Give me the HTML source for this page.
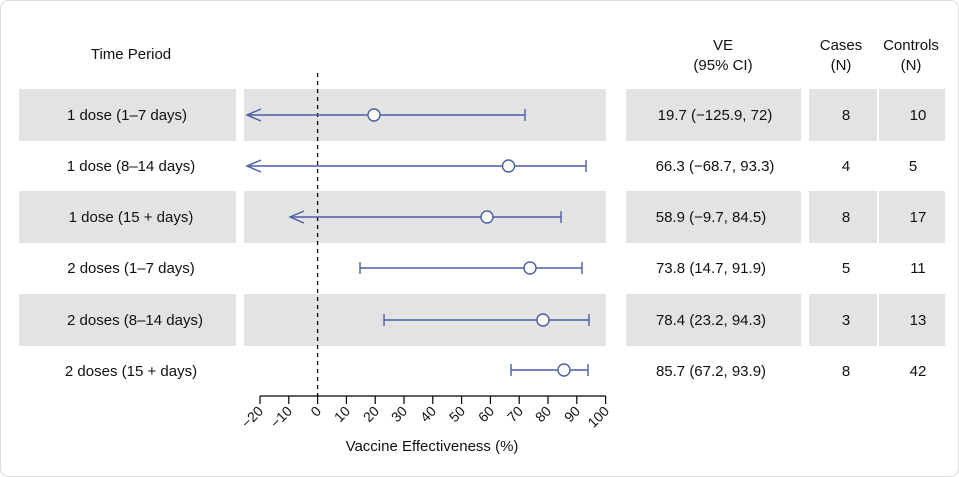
<!DOCTYPE html>
<html><head><style>
body{margin:0;background:#fff;}
svg{display:block;font-family:"Liberation Sans",Arial,sans-serif;}
</style></head><body>
<svg width="959" height="477" viewBox="0 0 959 477" xmlns="http://www.w3.org/2000/svg">
<rect x="0.5" y="0.5" width="958" height="476" rx="8" fill="#fff" stroke="#ddd"/>
<g fill="#e3e3e3">
<rect x="19" y="89" width="217" height="52"/><rect x="244" y="89" width="362" height="52"/><rect x="626" y="89" width="175" height="52"/><rect x="809" y="89" width="68" height="52"/><rect x="879" y="89" width="66" height="52"/>
<rect x="19" y="191" width="217" height="52"/><rect x="244" y="191" width="362" height="52"/><rect x="626" y="191" width="175" height="52"/><rect x="809" y="191" width="68" height="52"/><rect x="879" y="191" width="66" height="52"/>
<rect x="19" y="294" width="217" height="52"/><rect x="244" y="294" width="362" height="52"/><rect x="626" y="294" width="175" height="52"/><rect x="809" y="294" width="68" height="52"/><rect x="879" y="294" width="66" height="52"/>
</g>
<g font-size="15" fill="#111" text-anchor="middle">
<text x="131" y="59">Time Period</text>
<text x="723" y="50">VE</text><text x="723" y="70">(95% CI)</text>
<text x="841" y="50">Cases</text><text x="841" y="70">(N)</text>
<text x="911" y="50">Controls</text><text x="911" y="70">(N)</text>
<text x="127" y="120">1 dose (1–7 days)</text>
<text x="131" y="171">1 dose (8–14 days)</text>
<text x="131" y="222">1 dose (15 + days)</text>
<text x="131" y="273">2 doses (1–7 days)</text>
<text x="135" y="325">2 doses (8–14 days)</text>
<text x="131" y="376">2 doses (15 + days)</text>
<text x="715" y="120">19.7 (−125.9, 72)</text>
<text x="715" y="171">66.3 (−68.7, 93.3)</text>
<text x="711" y="222">58.9 (−9.7, 84.5)</text>
<text x="711" y="273">73.8 (14.7, 91.9)</text>
<text x="711" y="325">78.4 (23.2, 94.3)</text>
<text x="711" y="376">85.7 (67.2, 93.9)</text>
<text x="846" y="120">8</text><text x="846" y="171">4</text><text x="846" y="222">8</text><text x="846" y="273">5</text><text x="846" y="325">3</text><text x="846" y="376">8</text>
<text x="918" y="120">10</text><text x="913" y="171">5</text><text x="918" y="222">17</text><text x="918" y="273">11</text><text x="918" y="325">13</text><text x="918" y="376">42</text>
<text x="432" y="451">Vaccine Effectiveness (%)</text>
</g>
<line x1="317.6" y1="73" x2="317.6" y2="396" stroke="#000" stroke-width="1.3" stroke-dasharray="4,4"/>
<g stroke="#4a5ea8" stroke-width="1.4" fill="none">
<line x1="247" y1="115" x2="525" y2="115"/><polyline points="261,109 247,115 261,121"/><line x1="525" y1="109" x2="525" y2="121"/>
<line x1="247" y1="166" x2="586" y2="166"/><polyline points="261,160 247,166 261,172"/><line x1="586" y1="160" x2="586" y2="172"/>
<line x1="290" y1="217" x2="561" y2="217"/><polyline points="304,211 290,217 304,223"/><line x1="561" y1="211" x2="561" y2="223"/>
<line x1="360" y1="268" x2="582" y2="268"/><line x1="360" y1="262" x2="360" y2="274"/><line x1="582" y1="262" x2="582" y2="274"/>
<line x1="384" y1="320" x2="589" y2="320"/><line x1="384" y1="314" x2="384" y2="326"/><line x1="589" y1="314" x2="589" y2="326"/>
<line x1="511" y1="370" x2="588" y2="370"/><line x1="511" y1="364" x2="511" y2="376"/><line x1="588" y1="364" x2="588" y2="376"/>
</g>
<g stroke="#4a5ea8" stroke-width="1.4" fill="#fff">
<circle cx="374" cy="115" r="6"/><circle cx="508.5" cy="166" r="6"/><circle cx="487" cy="217" r="6"/>
<circle cx="530" cy="268" r="6"/><circle cx="543" cy="320" r="6"/><circle cx="564" cy="370" r="6"/>
</g>
<g stroke="#000" stroke-width="1.2">
<line x1="260" y1="396" x2="605.6" y2="396"/>
<line x1="260" y1="396" x2="260" y2="404"/><line x1="288.8" y1="396" x2="288.8" y2="404"/><line x1="317.6" y1="396" x2="317.6" y2="404"/><line x1="346.4" y1="396" x2="346.4" y2="404"/><line x1="375.2" y1="396" x2="375.2" y2="404"/><line x1="404" y1="396" x2="404" y2="404"/><line x1="432.8" y1="396" x2="432.8" y2="404"/><line x1="461.6" y1="396" x2="461.6" y2="404"/><line x1="490.4" y1="396" x2="490.4" y2="404"/><line x1="519.2" y1="396" x2="519.2" y2="404"/><line x1="548" y1="396" x2="548" y2="404"/><line x1="576.8" y1="396" x2="576.8" y2="404"/><line x1="605.6" y1="396" x2="605.6" y2="404"/>
</g>
<g font-size="14" fill="#111" text-anchor="end">
<text transform="translate(264,412) rotate(-45)">−20</text>
<text transform="translate(293,412) rotate(-45)">−10</text>
<text transform="translate(322,412) rotate(-45)">0</text>
<text transform="translate(351,412) rotate(-45)">10</text>
<text transform="translate(380,412) rotate(-45)">20</text>
<text transform="translate(408,412) rotate(-45)">30</text>
<text transform="translate(437,412) rotate(-45)">40</text>
<text transform="translate(466,412) rotate(-45)">50</text>
<text transform="translate(495,412) rotate(-45)">60</text>
<text transform="translate(524,412) rotate(-45)">70</text>
<text transform="translate(552,412) rotate(-45)">80</text>
<text transform="translate(581,412) rotate(-45)">90</text>
<text transform="translate(610,412) rotate(-45)">100</text>
</g>
</svg>
</body></html>
